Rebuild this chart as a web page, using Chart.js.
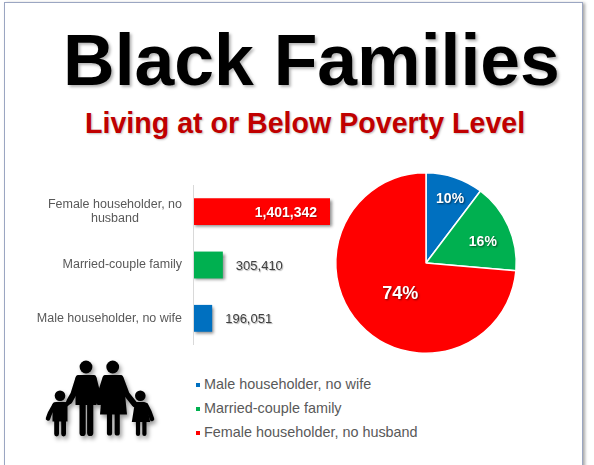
<!DOCTYPE html>
<html>
<head>
<meta charset="utf-8">
<script src="https://cdn.jsdelivr.net/npm/chart.js@4.4.1/dist/chart.umd.min.js"></script>
<style>
  html, body { margin: 0; padding: 0; background: #fff; }
  body { width: 594px; height: 465px; position: relative; overflow: hidden; font-family: "Liberation Sans", Arial, sans-serif; }
  .frame { position: absolute; left: 4px; top: 2px; width: 577px; height: 480px; border: 1px solid #9ba6c2; box-shadow: 2px 1px 3px rgba(0,0,0,0.35); background: #fff; }
  .title { position: absolute; left: 63px; top: 25px; font-size: 71.5px; line-height: 71px; font-weight: bold; color: #000; white-space: nowrap; text-shadow: 2px 2px 3px rgba(0,0,0,0.3); }
  .subtitle { position: absolute; left: 85px; top: 109px; font-size: 28.6px; line-height: 28px; font-weight: bold; color: #c00000; white-space: nowrap; text-shadow: 1px 1px 2px rgba(0,0,0,0.25); }
  #barCanvas { position: absolute; left: 0; top: 175px; }
  #pieCanvas { position: absolute; left: 330px; top: 167px; }
  #legend { position: absolute; left: 196px; top: 372px; }
  #legend .item { height: 24px; line-height: 24px; font-size: 14.4px; color: #595959; white-space: nowrap; }
  #legend .box { display: inline-block; width: 4px; height: 4px; margin-right: 4px; vertical-align: middle; }
  #family { position: absolute; left: 0; top: 350px; overflow: visible; }
</style>
</head>
<body>
<div class="frame"></div>
<div class="title">Black Families</div>
<div class="subtitle">Living at or Below Poverty Level</div>

<canvas id="barCanvas" width="340" height="180"></canvas>
<canvas id="pieCanvas" width="192" height="192"></canvas>
<div id="legend"></div>

<svg id="family" width="170" height="95" viewBox="0 350 170 95">
  <defs>
    <filter id="sh" x="-20%" y="-20%" width="140%" height="140%">
      <feDropShadow dx="2" dy="3" stdDeviation="2" flood-color="#000" flood-opacity="0.4"/>
    </filter>
  </defs>
  <g filter="url(#sh)" fill="#000" stroke="#000" stroke-linecap="round" stroke-linejoin="round">
    <!-- man -->
    <circle cx="86" cy="367" r="6.4" stroke="none"/>
    <path d="M80,375 H92 Q96,375 96.5,379 V405 H75.5 V379 Q76,375 80,375 Z" stroke="none"/>
    <line x1="82.6" y1="403" x2="82.6" y2="433" stroke-width="6.2"/>
    <line x1="90.2" y1="403" x2="90.2" y2="433" stroke-width="6.2"/>
    <polyline points="78.5,378 73.5,394 69.5,401" fill="none" stroke-width="6"/>
    <polyline points="93.5,378 97.5,394 99.5,402" fill="none" stroke-width="6"/>
    <!-- woman -->
    <circle cx="112.7" cy="367" r="6.4" stroke="none"/>
    <path d="M106,375 H119.5 Q123,375 123.5,379 L127,414.5 H100 L103,379 Q103.5,375 106,375 Z" stroke="none"/>
    <line x1="109.5" y1="412" x2="109.5" y2="433" stroke-width="5.2"/>
    <line x1="117.2" y1="412" x2="117.2" y2="433" stroke-width="5.2"/>
    <polyline points="105.5,378 100.5,394 99,402" fill="none" stroke-width="6"/>
    <polyline points="120.5,378 126.5,394 134.5,404" fill="none" stroke-width="6"/>
    <!-- boy -->
    <circle cx="60" cy="395.7" r="5.3" stroke="none"/>
    <path d="M56,402 H64.5 Q67.5,402 67.5,405 V421.5 H52.5 V405 Q52.5,402 56,402 Z" stroke="none"/>
    <line x1="56.6" y1="420" x2="56.6" y2="434" stroke-width="4.8"/>
    <line x1="63.6" y1="420" x2="63.6" y2="434" stroke-width="4.8"/>
    <polyline points="54.5,405 50,413 48,418.5" fill="none" stroke-width="4.5"/>
    <polyline points="65.5,405 68,403 70,401" fill="none" stroke-width="4.5"/>
    <!-- girl -->
    <circle cx="140.3" cy="395.7" r="5.3" stroke="none"/>
    <path d="M137,402 H144 Q146.5,402 146.8,405 L150.2,422 H131.8 L134.5,405 Q134.8,402 137,402 Z" stroke="none"/>
    <line x1="138" y1="420" x2="138" y2="434" stroke-width="4.2"/>
    <line x1="144.4" y1="420" x2="144.4" y2="434" stroke-width="4.2"/>
    <polyline points="136,405 134.5,404.5" fill="none" stroke-width="4.5"/>
    <polyline points="146,405 149.5,412 152,419" fill="none" stroke-width="4.5"/>
  </g>
</svg>

<script>
// bar chart: top to bottom
const BAR_LABELS = [['Female householder, no', 'husband'], ['Married-couple family'], ['Male householder, no wife']];
const BAR_VALUES = [1401342, 305410, 196051];
const BAR_COLORS = ['#ff0000', '#00b050', '#0070c0'];

// pie chart, clockwise from 12 o'clock
const PIE_LABELS = ['Male householder, no wife', 'Married-couple family', 'Female householder, no husband'];
const PIE_VALUES = [196051, 305410, 1401342];
const PIE_COLORS = ['#0070c0', '#00b050', '#ff0000'];

const FONT = '"Liberation Sans", Arial, sans-serif';
const fmt = v => v.toLocaleString('en-US');

const barDecor = {
    id: 'barDecor',
    beforeDatasetsDraw(chart) {
        const c = chart.ctx;
        c.save();
        c.shadowColor = 'rgba(0,0,0,0.45)';
        c.shadowOffsetX = 2;
        c.shadowOffsetY = 2;
        c.shadowBlur = 3;
    },
    afterDatasetsDraw(chart) {
        const c = chart.ctx;
        c.restore();
        const { chartArea: a, scales: { x, y } } = chart;

        c.save();
        c.strokeStyle = '#d9d9d9';
        c.lineWidth = 1;
        c.beginPath();
        c.moveTo(a.left + 0.5, a.top);
        c.lineTo(a.left + 0.5, a.bottom);
        c.stroke();

        // category labels, lines centred on the widest line, right edge fixed
        c.font = '12.5px ' + FONT;
        c.fillStyle = '#595959';
        c.textBaseline = 'middle';
        c.textAlign = 'center';
        BAR_LABELS.forEach((lines, i) => {
            const yc = y.getPixelForValue(i);
            const maxW = Math.max(...lines.map(l => c.measureText(l).width));
            const right = a.left - 11;
            lines.forEach((l, j) => {
                c.fillText(l, right - maxW / 2, yc + (j - (lines.length - 1) / 2) * 14);
            });
        });

        // value labels
        BAR_VALUES.forEach((v, i) => {
            const xe = x.getPixelForValue(v);
            const yc = y.getPixelForValue(i);
            c.shadowColor = 'rgba(0,0,0,0.3)';
            c.shadowOffsetX = 1;
            c.shadowOffsetY = 1;
            c.shadowBlur = 1;
            if (xe - a.left > 100) {
                c.font = 'bold 14px ' + FONT;
                c.fillStyle = '#ffffff';
                c.textAlign = 'right';
                c.fillText(fmt(v), xe - 13, yc + 1);
            } else {
                c.font = '13px ' + FONT;
                c.fillStyle = '#404040';
                c.textAlign = 'left';
                c.fillText(fmt(v), xe + 13, yc + 1);
            }
        });
        c.restore();
    }
};

new Chart(document.getElementById('barCanvas'), {
    type: 'bar',
    data: {
        labels: BAR_LABELS,
        datasets: [{
            data: BAR_VALUES,
            backgroundColor: BAR_COLORS,
            borderWidth: 0,
            barPercentage: 0.9,
            categoryPercentage: 0.56,
            clip: false,
        }]
    },
    options: {
        indexAxis: 'y',
        responsive: false,
        animation: false,
        layout: { padding: { left: 193, right: 10, top: 10, bottom: 10 } },
        plugins: { legend: { display: false }, tooltip: { enabled: false } },
        scales: {
            x: { display: false, min: 0, max: 1401342 },
            y: { display: false }
        }
    },
    plugins: [barDecor]
});

// label placement inside the slices (fraction of radius, angle nudge in degrees, font size)
const PIE_LABEL_R = [0.76, 0.67, 0.45];
const PIE_LABEL_NUDGE = [2, 4, -8];
const PIE_LABEL_SIZE = [14, 14, 18];

const pieLabels = {
    id: 'pieLabels',
    afterDatasetsDraw(chart) {
        const c = chart.ctx;
        const total = PIE_VALUES.reduce((s, v) => s + v, 0);
        const meta = chart.getDatasetMeta(0);
        c.save();
        c.textAlign = 'center';
        c.textBaseline = 'middle';
        c.fillStyle = '#ffffff';
        c.shadowColor = 'rgba(0,0,0,0.55)';
        c.shadowOffsetX = 1;
        c.shadowOffsetY = 1;
        c.shadowBlur = 2;
        meta.data.forEach((arc, i) => {
            const p = arc.getProps(['x', 'y', 'startAngle', 'endAngle', 'outerRadius'], true);
            const mid = (p.startAngle + p.endAngle) / 2 + PIE_LABEL_NUDGE[i] * Math.PI / 180;
            const r = p.outerRadius * PIE_LABEL_R[i];
            c.font = 'bold ' + PIE_LABEL_SIZE[i] + 'px ' + FONT;
            c.fillText(Math.round(PIE_VALUES[i] / total * 100) + '%', p.x + Math.cos(mid) * r, p.y + Math.sin(mid) * r);
        });
        c.restore();
    }
};

const pie = new Chart(document.getElementById('pieCanvas'), {
    type: 'pie',
    data: {
        labels: PIE_LABELS,
        datasets: [{
            data: PIE_VALUES,
            backgroundColor: PIE_COLORS,
            borderColor: '#ffffff',
            borderWidth: 1.5,
        }]
    },
    options: {
        responsive: false,
        animation: false,
        layout: { padding: 5 },
        plugins: { legend: { display: false }, tooltip: { enabled: false } }
    },
    plugins: [pieLabels]
});

// legend under the pie, built from the pie's own data
const legend = document.getElementById('legend');
pie.data.labels.forEach((lab, i) => {
    const row = document.createElement('div');
    row.className = 'item';
    const box = document.createElement('span');
    box.className = 'box';
    box.style.background = pie.data.datasets[0].backgroundColor[i];
    row.appendChild(box);
    row.appendChild(document.createTextNode(lab));
    legend.appendChild(row);
});
</script>
</body>
</html>
